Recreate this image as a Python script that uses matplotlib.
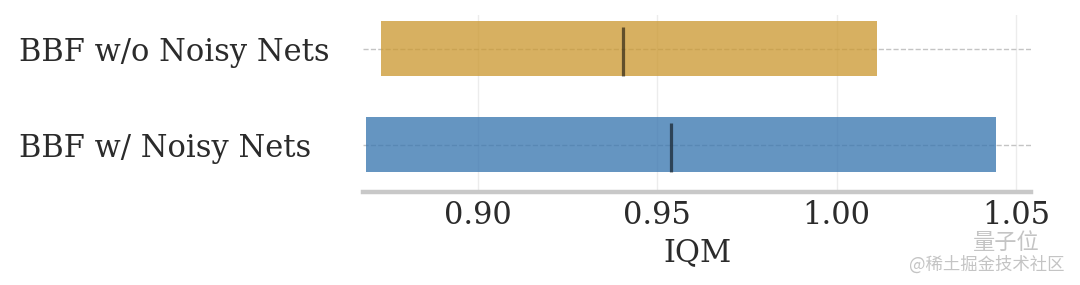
import matplotlib

matplotlib.use("Agg")
import matplotlib.pyplot as plt

METHODS = ["BBF w/ Noisy Nets", "BBF w/o Noisy Nets"]
LOWER = [0.8688, 0.8730]
UPPER = [1.0444, 1.0113]
MEDIAN = [0.9538, 0.9404]
COLORS = ["#3a77b0", "#cc9a34"]
X_TICKS = [0.90, 0.95, 1.00, 1.05]
X_LABEL = "IQM"

TEXT_COLOR = "#2b2b2b"


def main() -> None:
    plt.rcParams["font.family"] = ["DejaVu Serif"]

    fig = plt.figure(figsize=(10.8, 2.85), dpi=100)
    ax = fig.add_axes([0.3361, 0.3263, 0.6185, 0.6211])

    bar_half = 0.286
    for idx, (lo, hi, med, color) in enumerate(zip(LOWER, UPPER, MEDIAN, COLORS)):
        ax.barh(
            idx,
            hi - lo,
            left=lo,
            height=2 * bar_half,
            color=color,
            alpha=0.78,
            linewidth=0,
            zorder=2,
        )
        ax.vlines(
            med,
            idx - bar_half,
            idx + 0.224,
            color="black",
            alpha=0.55,
            linewidth=2.3,
            zorder=3,
        )

    ax.set_xlim(0.8679, 1.0542)
    ax.set_ylim(-0.495, 1.35)

    ax.set_xticks(X_TICKS)
    ax.set_xticklabels([f"{t:.2f}" for t in X_TICKS])
    ax.set_yticks(range(len(METHODS)))
    ax.set_yticklabels(METHODS, ha="left")

    ax.tick_params(axis="x", length=0, pad=6, labelsize=22, labelcolor=TEXT_COLOR)
    ax.tick_params(axis="y", length=0, pad=248, labelsize=22, labelcolor=TEXT_COLOR)
    ax.set_xlabel(X_LABEL, fontsize=22, color=TEXT_COLOR, labelpad=4)

    ax.set_axisbelow(True)
    ax.grid(True, axis="x", color="#ececec", linewidth=1.0)
    ax.grid(True, axis="y", color="#c4c4c4", linestyle="--", linewidth=1.0)

    for side in ["top", "right", "left"]:
        ax.spines[side].set_visible(False)
    ax.spines["bottom"].set_color("#c8c8c8")
    ax.spines["bottom"].set_linewidth(3.2)
    ax.spines["bottom"].set_zorder(4)

    # watermark
    cjk = ["Noto Sans CJK SC", "DejaVu Sans"]
    fig.text(1006 / 1080, 1 - 242 / 285, "量子位", fontsize=16, color="#c4c4c4",
             family=cjk, ha="center", va="center")
    fig.text(987 / 1080, 1 - 265 / 285, "@稀土掘金技术社区", fontsize=12.5, color="#c4c4c4",
             family=cjk, ha="center", va="center")

    fig.savefig("out.png", dpi=100)
    plt.close(fig)


if __name__ == "__main__":
    main()
